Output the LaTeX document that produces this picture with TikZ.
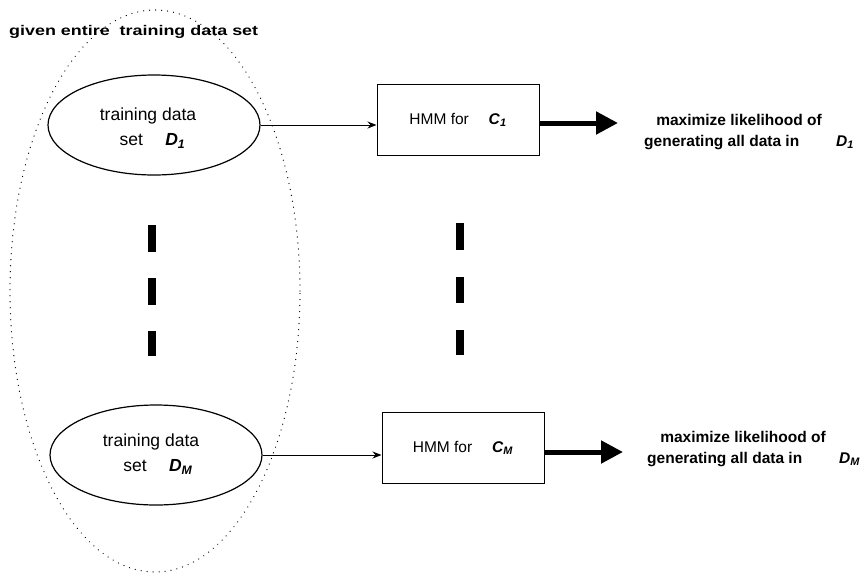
\documentclass[tikz,border=0pt]{standalone}
\usepackage{fontspec}
\setmainfont{Liberation Sans}
\usetikzlibrary{shapes.geometric,arrows.meta}
\newcommand{\sym}[2]{\textbf{\textit{#1}}\textsubscript{\textbf{\textit{#2}}}}
\tikzset{
  setell/.style={draw, ellipse, line width=1.2pt, minimum width=212pt, minimum height=100pt,
                 inner sep=0pt},
  settext/.style={align=center, inner sep=0pt, font=\fontsize{17.5}{25}\selectfont},
  hmmbox/.style={draw, rectangle, line width=1pt, minimum width=162pt, minimum height=71pt,
                 inner sep=0pt, font=\fontsize{15.5}{18}\selectfont},
  goaltext/.style={inner sep=0pt, font=\bfseries\fontsize{15.5}{20}\selectfont},
  thin/.style={line width=0.9pt, -{Stealth[length=9pt,width=7pt]}},
  thick/.style={line width=5pt, -{Triangle[length=22pt,width=22pt]}},
  gap/.style={line width=8pt},
  allset/.style={draw, ellipse, line width=1.3pt, dash pattern=on 0.01pt off 6pt, line cap=round,
                 minimum width=290pt, minimum height=562pt, inner sep=0pt}
}
\begin{document}
\begin{tikzpicture}[x=1pt,y=-1pt]
  \useasboundingbox (0,0) rectangle (864,574);

  % whole training set
  \node[allset] (all) at (155,291) {};
  \node[anchor=west, inner sep=0pt] (title) at (9,32)
    {\scalebox{1.28}[1]{\bfseries\fontsize{14}{16}\selectfont given entire \ training data set}};

  % per-class subsets
  \node[setell] (d1) at (154,125) {};
  \node[settext] (t1) at (148,128) {training data\\\hspace*{0.5em}set \quad \sym{D}{1}};
  \node[setell] (dm) at (156,455) {};
  \node[settext] (tm) at (151,454) {training data\\\hspace*{0.8em}set \quad \sym{D}{M}};

  % class models
  \node[hmmbox] (c1) at (458,120) {HMM for \quad \sym{C}{1}};
  \node[hmmbox] (cm) at (463,448) {HMM for \quad \sym{C}{M}};

  % objectives
  \coordinate (o1) at (618,123);
  \coordinate (om) at (623,452);
  \node[goaltext, anchor=base] (g1a) at (739,125) {maximize likelihood of};
  \node[goaltext, anchor=base west] (g1b) at (644,146) {generating all data in};
  \node[goaltext, anchor=base west] (g1c) at (836,146) {\sym{D}{1}};
  \node[goaltext, anchor=base] (gma) at (743,442) {maximize likelihood of};
  \node[goaltext, anchor=base west] (gmb) at (647,463) {generating all data in};
  \node[goaltext, anchor=base west] (gmc) at (839,463) {\sym{D}{M}};

  % connectors
  \draw[thin] (d1.east) -- (d1.east -| c1.west);
  \draw[thin] (dm.east) -- (dm.east -| cm.west);
  \draw[thick] (c1.east |- o1) -- (o1);
  \draw[thick] (cm.east |- om) -- (om);

  % ellipsis bars
  \coordinate (l1) at (152,225); \coordinate (l2) at (152,252);
  \coordinate (l3) at (152,278); \coordinate (l4) at (152,305);
  \coordinate (l5) at (152,331); \coordinate (l6) at (152,356);
  \coordinate (r1) at (460,223); \coordinate (r2) at (460,250);
  \coordinate (r3) at (460,277); \coordinate (r4) at (460,303);
  \coordinate (r5) at (460,330); \coordinate (r6) at (460,355);
  \draw[gap] (l1) -- (l2) (l3) -- (l4) (l5) -- (l6);
  \draw[gap] (r1) -- (r2) (r3) -- (r4) (r5) -- (r6);
\end{tikzpicture}
\end{document}
